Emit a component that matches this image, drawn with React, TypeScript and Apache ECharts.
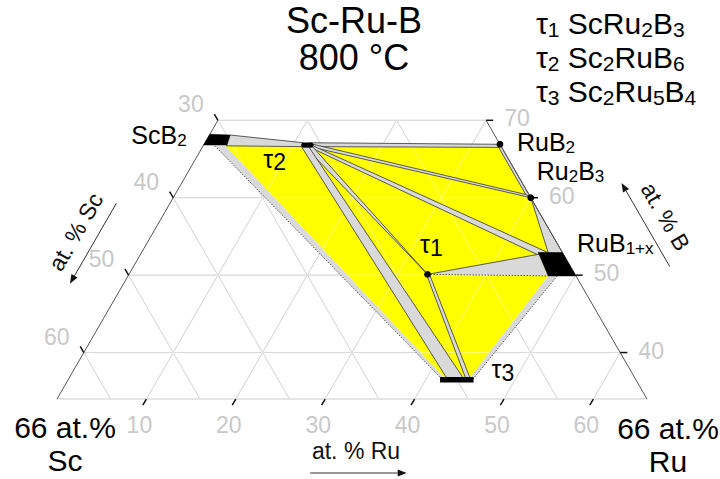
import React, { useEffect, useRef } from "react";
import * as echarts from "echarts";

// compositions are [Ru at.%, B at.%]; Sc = 100 - Ru - B
type P = [number, number];

// ---------- axis values ----------
const B_LOW = 34;
const B_HIGH = 70;
const GRID_B = [40, 50, 60, 70];
const GRID_RU = [10, 20, 30, 40, 50, 60];
const GRID_SC = [10, 20, 30, 40, 50, 60];
const TICK_SC = [30, 40, 50, 60];
const TICK_B = [70, 60, 50, 40];
const TICK_RU = [10, 20, 30, 40, 50, 60];

// ---------- single-phase fields ----------
const SCB2_FIELD: P[] = [[0, 66.8], [0, 68.2], [2.3, 68.1], [2.6, 66.8]];
const RUB1X_FIELD: P[] = [[44.4, 52.9], [47.1, 52.9], [50.1, 49.9], [47.0, 49.9]];
const TAU2_RANGE: P[] = [[11.2, 66.8], [12.0, 66.8]];
const TAU3_RANGE: P[] = [[41.6, 36.5], [45.35, 36.5]];
const TAU2: P = [11.6, 66.8];
const RUB2: P = [33.1, 66.9];
const RU2B3: P = [40, 60];
const TAU1: P = [33.4, 50.1];
const POINT_PHASES: P[] = [RUB2, RU2B3, TAU1];

// ---------- three-phase fields (yellow) ----------
const THREE_PHASE: P[] = [
  [2.5, 66.7], [11.2, 66.6], [33.2, 66.45], [39.5, 60.15], [40, 60],
  [45.5, 52.9], [47.0, 49.9], [44.8, 36.65], [42.0, 36.7],
];

// ---------- two-phase fields (grey) ----------
const TIE_SCB2_TAU2: P[] = [[2.3, 68.1], [11.0, 67.1], [11.2, 66.6], [2.6, 66.7]];
const TIE_TAU2_RUB2: P[] = [[11.7, 67.1], [33.1, 66.9], [33.5, 66.5], [12.3, 66.6]];
const TIE_RUB2_RU2B3: P[] = [[33.1, 66.9], [40, 60], [39.5, 60.15], [33.2, 66.45]];
const TIE_TAU2_RU2B3: P[] = [[12.2, 66.9], [39.3, 60.4], [40, 60], [12.4, 66.5]];
const TIE_RU2B3_RUB1X: P[] = [[40, 60], [47.1, 52.9], [45.5, 52.9]];
const TIE_TAU2_RUB1X: P[] = [[12.3, 66.7], [45.5, 52.9], [44.4, 52.9], [44.65, 52.55], [12.3, 66.4]];
const TIE_TAU2_TAU1: P[] = [[11.5, 66.55], [12.35, 66.55], [33.4, 50.1]];
const TIE_TAU2_TAU3: P[] = [[11.1, 66.55], [11.9, 66.55], [44.1, 36.7], [42.25, 36.7]];
const TIE_TAU1_TAU3: P[] = [[33.45, 49.9], [33.7, 50.0], [44.9, 36.65], [44.4, 36.65]];
const TIE_SCB2_TAU3: P[] = [[1.3, 66.7], [2.5, 66.7], [42.0, 36.7], [41.6, 36.7]];
const TIE_TAU1_RUB1X: P[] = [[33.4, 50.1], [44.55, 52.7], [47.0, 49.9]];
const TIE_RUB1X_TAU3: P[] = [[47.0, 49.9], [48.0, 49.9], [45.25, 36.6], [44.8, 36.65]];

const OUTLINED_FIELDS: P[][] = [
  TIE_SCB2_TAU2, TIE_TAU2_RUB2, TIE_RUB2_RU2B3, TIE_TAU2_RU2B3, TIE_RU2B3_RUB1X,
  TIE_TAU2_RUB1X, TIE_TAU2_TAU1, TIE_TAU2_TAU3, TIE_TAU1_TAU3,
];
const PLAIN_FIELDS: P[][] = [TIE_SCB2_TAU3, TIE_TAU1_RUB1X, TIE_RUB1X_TAU3];
const DOTTED_BOUNDARIES: P[][] = [
  [[1.3, 66.7], [41.6, 36.7]],
  [[33.4, 50.1], [47.0, 49.9]],
  [[48.0, 49.9], [45.25, 36.6]],
];
const SOLID_BOUNDARIES: P[][] = [[[33.4, 50.1], [44.55, 52.7]]];

// ---------- texts ----------
const TITLE_LINES = ["Sc-Ru-B", "800 °C"];
const LEGEND_LINES = [
  "{t|τ}{s|1}{m| ScRu}{s|2}{m|B}{s|3}",
  "{t|τ}{s|2}{m| Sc}{s|2}{m|RuB}{s|6}",
  "{t|τ}{s|3}{m| Sc}{s|2}{m|Ru}{s|5}{m|B}{s|4}",
];

const FONT = '"Liberation Sans", Arial, Helvetica, sans-serif';

const S3 = Math.sqrt(3) / 2;
const toXY = (p: P) => [p[0] + (p[1] - B_LOW) / 2, (p[1] - B_LOW) * S3];
const px = (api: any, p: P): number[] => api.coord(toXY(p));

function buildOption() {
  const U = 590 / 66;
  const X0 = 57;
  const Y0 = 399;
  const XMIN = -6, XMAX = 73, YMIN = -8, YMAX = 40;

  // grid lines inside the truncated triangle
  const gridSegs: P[][] = [[[0, B_LOW], [100 - B_LOW, B_LOW]]];
  GRID_B.forEach((b) => gridSegs.push([[0, b], [100 - b, b]]));
  GRID_RU.forEach((ru) => gridSegs.push([[ru, B_LOW], [ru, Math.min(B_HIGH, 100 - ru)]]));
  GRID_SC.forEach((sc) => {
    const start: P = [100 - sc - B_LOW, B_LOW];
    const end: P = 100 - sc <= B_HIGH ? [0, 100 - sc] : [100 - sc - B_HIGH, B_HIGH];
    gridSegs.push([start, end]);
  });
  const edges: P[][] = [
    [[0, B_LOW], [0, B_HIGH]],
    [[100 - B_LOW, B_LOW], [100 - B_HIGH, B_HIGH]],
  ];
  const TL = 0.8;
  const ticks: P[][] = [
    ...TICK_SC.map((sc) => [[0, 100 - sc], [-TL, 100 - sc + TL]] as P[]),
    ...TICK_B.map((b) => [[100 - b, b], [100 - b + TL, b]] as P[]),
    ...TICK_RU.map((ru) => [[ru, B_LOW], [ru, B_LOW - TL]] as P[]),
  ];
  const tickLabels = [
    ...TICK_SC.map((sc) => ({ at: [0, 100 - sc] as P, dx: -27, dy: -16, text: String(sc) })),
    ...TICK_B.map((b) => ({ at: [100 - b, b] as P, dx: 31, dy: -2, text: String(b) })),
    ...TICK_RU.map((ru) => ({ at: [ru, B_LOW] as P, dx: -7, dy: 26, text: String(ru) })),
  ];

  const phaseLabels = [
    { at: SCB2_FIELD[0], dx: -17, dy: -10, align: "right", text: "{m|ScB}{s|2}" },
    { at: RUB2, dx: 17, dy: -2, align: "left", text: "{m|RuB}{s|2}" },
    { at: RU2B3, dx: 6, dy: -27, align: "left", text: "{m|Ru}{s|2}{m|B}{s|3}" },
    { at: RUB1X_FIELD[1], dx: 14.5, dy: -10, align: "left", text: "{m|RuB}{s|1+x}" },
    { at: TAU2, dx: -44, dy: 13.5, align: "left", text: "{t|τ}{d|2}" },
    { at: TAU1, dx: -7.5, dy: -30, align: "left", text: "{t|τ}{d|1}" },
    { at: TAU3_RANGE[1], dx: 18, dy: -10.6, align: "left", text: "{t|τ}{d|3}" },
  ];
  const phaseRich = {
    m: { fontSize: 25, lineHeight: 28, fontFamily: FONT, fill: "#000" },
    s: { fontSize: 17, lineHeight: 18, verticalAlign: "bottom", fontFamily: FONT, fill: "#000" },
    t: { fontSize: 25, lineHeight: 30, fontFamily: FONT, fill: "#000" },
    d: { fontSize: 23, lineHeight: 15, verticalAlign: "bottom", fontFamily: FONT, fill: "#000" },
  };

  const axisTitles = [
    { at: [-8.7, 55.6] as P, rot: Math.PI / 3, text: "at. % Sc" },
    { at: [56.3, 57.55] as P, rot: -Math.PI / 3, text: "at. % B" },
    { at: [36.8, 27.3] as P, rot: 0, text: "at. % Ru" },
  ];
  const arrows: P[][] = [
    [[-6, 59.3], [-6, 48.9]],
    [[60.0, 51.1], [49.2, 61.9]],
    [[33.1, 24.44], [43.9, 24.44]],
  ];
  const cornerLabels = [
    { at: [0, B_LOW] as P, dx: 8, dy: 12, text: "66 at.%\nSc" },
    { at: [100 - B_LOW, B_LOW] as P, dx: 21, dy: 13, text: "66 at.%\nRu" },
  ];

  let zc = 1;
  const layer = (items: any[], draw: (it: any, api: any) => any) => ({
    type: "custom",
    coordinateSystem: "cartesian2d",
    silent: true,
    clip: false,
    z: zc++,
    data: items.map(() => [0, 0]),
    renderItem: (params: any, api: any) => draw(items[params.dataIndex], api),
  });
  const seg = (pts: P[], api: any, style: any) => ({
    type: "polyline",
    shape: { points: pts.map((p) => px(api, p)) },
    style: { fill: "none", ...style },
  });
  const poly = (pts: P[], api: any, style: any) => ({
    type: "polygon",
    shape: { points: pts.map((p) => px(api, p)) },
    style,
  });

  const series = [
    layer(gridSegs, (s, api) => seg(s, api, { stroke: "#bdbdbd", lineWidth: 1 })),
    layer([THREE_PHASE], (s, api) => poly(s, api, { fill: "#ffff00" })),
    layer(gridSegs, (s, api) => seg(s, api, { stroke: "rgba(255,255,255,0.45)", lineWidth: 1 })),
    layer(OUTLINED_FIELDS, (s, api) => poly(s, api, { fill: "#d9d9d9", stroke: "#333", lineWidth: 0.8 })),
    layer(PLAIN_FIELDS, (s, api) => poly(s, api, { fill: "#d9d9d9" })),
    layer(DOTTED_BOUNDARIES, (s, api) => seg(s, api, { stroke: "#555", lineWidth: 1, lineDash: [1.5, 1.5] })),
    layer(SOLID_BOUNDARIES, (s, api) => seg(s, api, { stroke: "#333", lineWidth: 0.8 })),
    layer(edges, (s, api) => seg(s, api, { stroke: "#555", lineWidth: 1 })),
    layer(ticks, (s, api) => seg(s, api, { stroke: "#111", lineWidth: 1.5 })),
    layer([SCB2_FIELD, RUB1X_FIELD], (s, api) => poly(s, api, { fill: "#000", stroke: "#000", lineWidth: 0.5 })),
    layer([TAU2_RANGE], (s, api) => seg(s, api, { stroke: "#000", lineWidth: 5, lineCap: "round" })),
    layer([TAU3_RANGE], (s, api) => seg(s, api, { stroke: "#000", lineWidth: 5.5, lineCap: "butt" })),
    layer(POINT_PHASES, (p, api) => {
      const c = px(api, p);
      return { type: "circle", shape: { cx: c[0], cy: c[1], r: 3.4 }, style: { fill: "#000" } };
    }),
    layer(tickLabels, (l, api) => {
      const c = px(api, l.at);
      return {
        type: "text",
        x: c[0] + l.dx,
        y: c[1] + l.dy,
        style: { text: l.text, fill: "#c8c8c8", fontSize: 23, fontFamily: FONT, align: "center", verticalAlign: "middle" },
      };
    }),
    layer(phaseLabels, (l, api) => {
      const c = px(api, l.at);
      return {
        type: "text",
        x: c[0] + l.dx,
        y: c[1] + l.dy,
        style: { text: l.text, rich: phaseRich, fill: "#000", fontSize: 25, fontFamily: FONT, align: l.align, verticalAlign: "middle" },
      };
    }),
    layer(axisTitles, (l, api) => {
      const c = px(api, l.at);
      return {
        type: "text",
        x: c[0],
        y: c[1],
        rotation: l.rot,
        style: { text: l.text, fill: "#111", fontSize: 23, fontFamily: FONT, align: "center", verticalAlign: "middle" },
      };
    }),
    layer(arrows, (a, api) => {
      const p = px(api, a[0]);
      const q = px(api, a[1]);
      const dx = q[0] - p[0], dy = q[1] - p[1];
      const L = Math.hypot(dx, dy);
      const ux = dx / L, uy = dy / L;
      const hl = 9, hw = 3.5;
      const bx = q[0] - ux * hl, by = q[1] - uy * hl;
      return {
        type: "group",
        children: [
          { type: "line", shape: { x1: p[0], y1: p[1], x2: bx, y2: by }, style: { stroke: "#333", lineWidth: 1 } },
          {
            type: "polygon",
            shape: { points: [[q[0], q[1]], [bx - uy * hw, by + ux * hw], [bx + uy * hw, by - ux * hw]] },
            style: { fill: "#111" },
          },
        ],
      };
    }),
    layer(cornerLabels, (l, api) => {
      const c = px(api, l.at);
      return {
        type: "text",
        x: c[0] + l.dx,
        y: c[1] + l.dy,
        style: { text: l.text, fill: "#000", fontSize: 30, lineHeight: 33, fontFamily: FONT, align: "center", verticalAlign: "top" },
      };
    }),
  ];

  return {
    animation: false,
    backgroundColor: "#ffffff",
    grid: {
      left: X0 + XMIN * U,
      top: Y0 - YMAX * U,
      width: (XMAX - XMIN) * U,
      height: (YMAX - YMIN) * U,
      containLabel: false,
    },
    xAxis: { type: "value", min: XMIN, max: XMAX, show: false },
    yAxis: { type: "value", min: YMIN, max: YMAX, show: false },
    graphic: [
      {
        type: "text",
        x: 354,
        y: 2,
        silent: true,
        style: {
          text: TITLE_LINES.join("\n"),
          fontSize: 36,
          lineHeight: 37,
          fontFamily: FONT,
          fill: "#000",
          align: "center",
          verticalAlign: "top",
        },
      },
      {
        type: "text",
        x: 536,
        y: 6,
        silent: true,
        style: {
          text: LEGEND_LINES.join("\n"),
          fill: "#000",
          fontSize: 30,
          fontFamily: FONT,
          align: "left",
          verticalAlign: "top",
          rich: {
            t: { fontSize: 30, lineHeight: 34, fontFamily: FONT, fill: "#000" },
            m: { fontSize: 30, lineHeight: 34, fontFamily: FONT, fill: "#000" },
            s: { fontSize: 21, lineHeight: 20, verticalAlign: "bottom", fontFamily: FONT, fill: "#000" },
          },
        },
      },
    ],
    series,
  };
}

export default function App() {
  const ref = useRef<HTMLDivElement>(null);
  useEffect(() => {
    if (!ref.current) return;
    const chart = echarts.init(ref.current, undefined, { renderer: "svg" });
    chart.setOption(buildOption() as any);
    return () => chart.dispose();
  }, []);
  return (
    <div
      ref={ref}
      style={{ position: "fixed", left: 0, top: 0, width: 720, height: 479, background: "#fff" }}
    />
  );
}
